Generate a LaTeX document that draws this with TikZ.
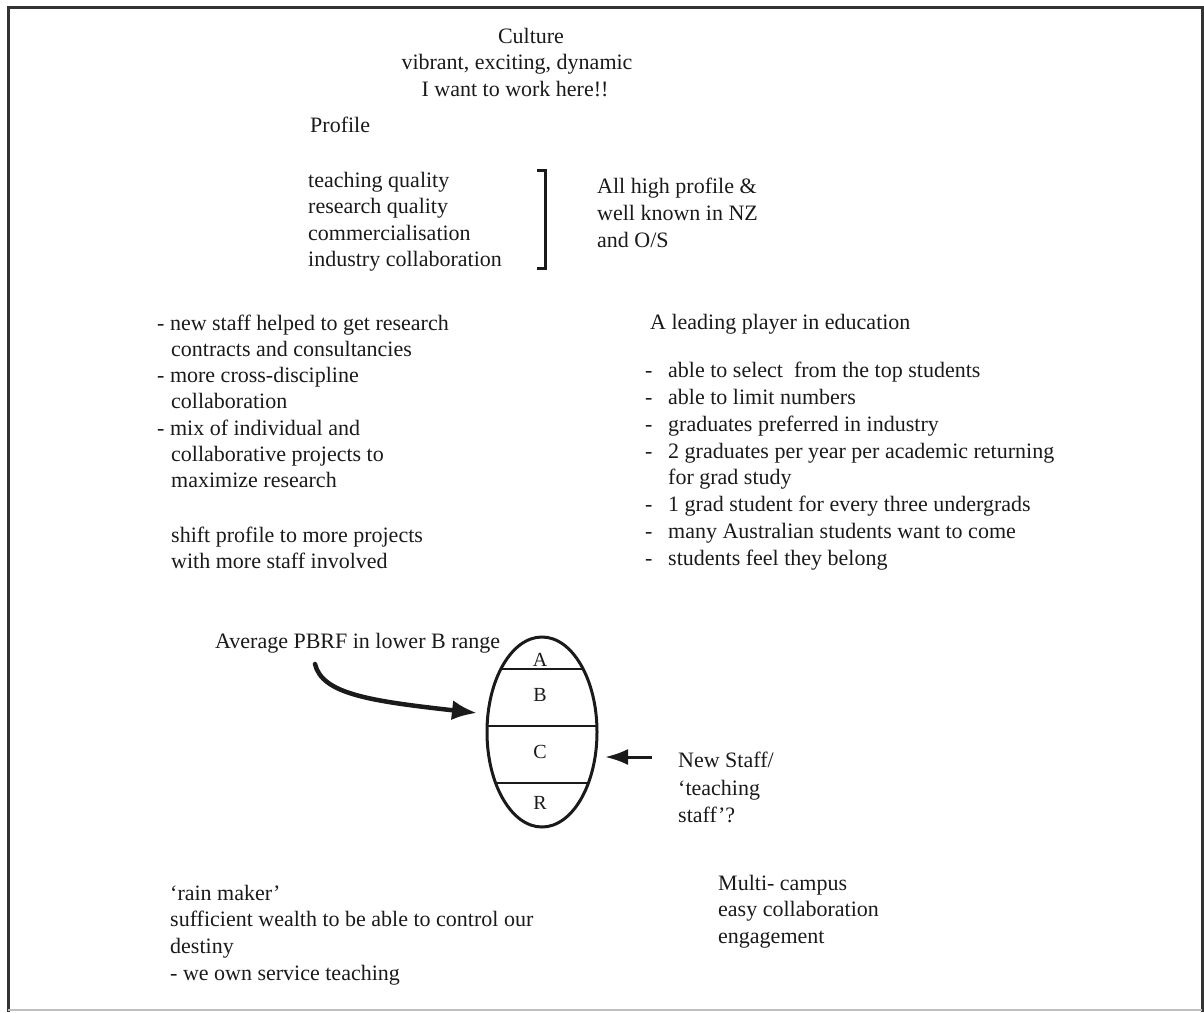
\documentclass[tikz,border=0pt]{standalone}
\usepackage{fontspec}
\setmainfont{Liberation Serif}
\usetikzlibrary{shapes.geometric,arrows.meta,calc}
\definecolor{ink}{HTML}{1A1A1A}
\definecolor{frame}{HTML}{333333}
\begin{document}
\begin{tikzpicture}[x=1pt,y=-1pt,
  txt/.style={inner sep=0pt, anchor=base west, text=ink, font=\fontsize{22}{27}\selectfont},
  ctxt/.style={txt, anchor=base},
  band/.style={inner sep=0pt, anchor=base, text=ink, font=\fontsize{20}{24}\selectfont},
  heavy/.style={draw=ink, line width=4.5pt, line cap=round},
  pointer/.style={draw=ink, line width=3pt}]
\useasboundingbox (0,0) rectangle (1204,1012);
% outer frame
\draw[frame, line width=3pt] (8,1012) -- (8,7) -- (1202,7) -- (1202,1012);
\draw[black!25, line width=1.5pt] (8,1010) -- (1202,1010);

% heading
\node[ctxt] (culture) at (531,43) {Culture};
\node[ctxt] (vibrant) at (517,69.5) {vibrant, exciting, dynamic};
\node[ctxt] (work) at (515,96) {I want to work here!!};

% profile
\node[txt] (profile) at (310,132) {Profile};
\node[txt] (p1) at (308,187) {teaching quality};
\node[txt] (p2) at (308,213.5) {research quality};
\node[txt] (p3) at (308,240) {commercialisation};
\node[txt] (p4) at (308,266.5) {industry collaboration};
\draw[ink, line width=3pt] (537,170) -- (545,170) -- (545,268) -- (537,268);
\node[txt] (h1) at (597,193) {All high profile \&};
\node[txt] (h2) at (597,220) {well known in NZ};
\node[txt] (h3) at (597,247) {and O/S};

% research block
\node[txt] (l1) at (157,330) {- new staff helped to get research};
\node[txt] (l2) at (171,356.3) {contracts and consultancies};
\node[txt] (l3) at (157,382.6) {- more cross-discipline};
\node[txt] (l4) at (171,408.9) {collaboration};
\node[txt] (l5) at (157,435.2) {- mix of individual and};
\node[txt] (l6) at (171,461.5) {collaborative projects to};
\node[txt] (l7) at (171,487.8) {maximize research};
\node[txt] (l8) at (171,542) {shift profile to more projects};
\node[txt] (l9) at (171,568) {with more staff involved};

% education block
\node[txt] (edu) at (650,329) {A leading player in education};
\foreach \yy [count=\i] in {377.5,404.4,431.2,458.1,511.8,538.7,565.5}
  \node[txt] (d\i) at (645,\yy) {-};
\node[txt] (e1) at (668,377.5) {able to select\ \ from the top students};
\node[txt] (e2) at (668,404.4) {able to limit numbers};
\node[txt] (e3) at (668,431.2) {graduates preferred in industry};
\node[txt] (e4) at (668,458.1) {2 graduates per year per academic returning};
\node[txt] (e5) at (668,484.9) {for grad study};
\node[txt] (e6) at (668,511.8) {1 grad student for every three undergrads};
\node[txt] (e7) at (668,538.7) {many Australian students want to come};
\node[txt] (e8) at (668,565.5) {students feel they belong};

% PBRF ellipse
\node[draw=ink, ellipse, line width=3pt, minimum width=110pt, minimum height=190pt, inner sep=0pt] (ell) at (542,732) {};
\begin{scope}
  \clip (542,732) ellipse [x radius=55pt, y radius=95pt];
  \draw[ink, line width=2.5pt] (480,669) -- (605,669);
  \draw[ink, line width=2.5pt] (480,726) -- (605,726);
  \draw[ink, line width=2.5pt] (480,783) -- (605,783);
\end{scope}
\node[band] (ba) at (540,666.5) {A};
\node[band] (bb) at (540,701.5) {B};
\node[band] (bc) at (540,758.5) {C};
\node[band] (br) at (540,809.5) {R};

\node[txt] (pbrf) at (215,648) {Average PBRF in lower B range};
\coordinate (pbrfstart) at (315,664);
\coordinate (pbrftip) at (477,713);
\draw[heavy, -{Latex[length=25pt,width=20pt]}] (pbrfstart) .. controls (322,694) and (370,701) .. (pbrftip);

\node[txt] (ns1) at (678,767) {New Staff/};
\node[txt] (ns2) at (678,795) {`teaching};
\node[txt] (ns3) at (678,822) {staff'?};
\coordinate (nsstart) at (652,757);
\coordinate (nstip) at (605,757);
\draw[pointer, -{Latex[length=23pt,width=16pt]}] (nsstart) -- (nstip);

% bottom notes
\node[txt] (b1) at (170,900) {`rain maker'};
\node[txt] (b2) at (170,926.7) {sufficient wealth to be able to control our};
\node[txt] (b3) at (170,953.4) {destiny};
\node[txt] (b4) at (170,980) {- we own service teaching};

\node[txt] (m1) at (718,890) {Multi- campus};
\node[txt] (m2) at (718,916.5) {easy collaboration};
\node[txt] (m3) at (718,943) {engagement};
\end{tikzpicture}
\end{document}
